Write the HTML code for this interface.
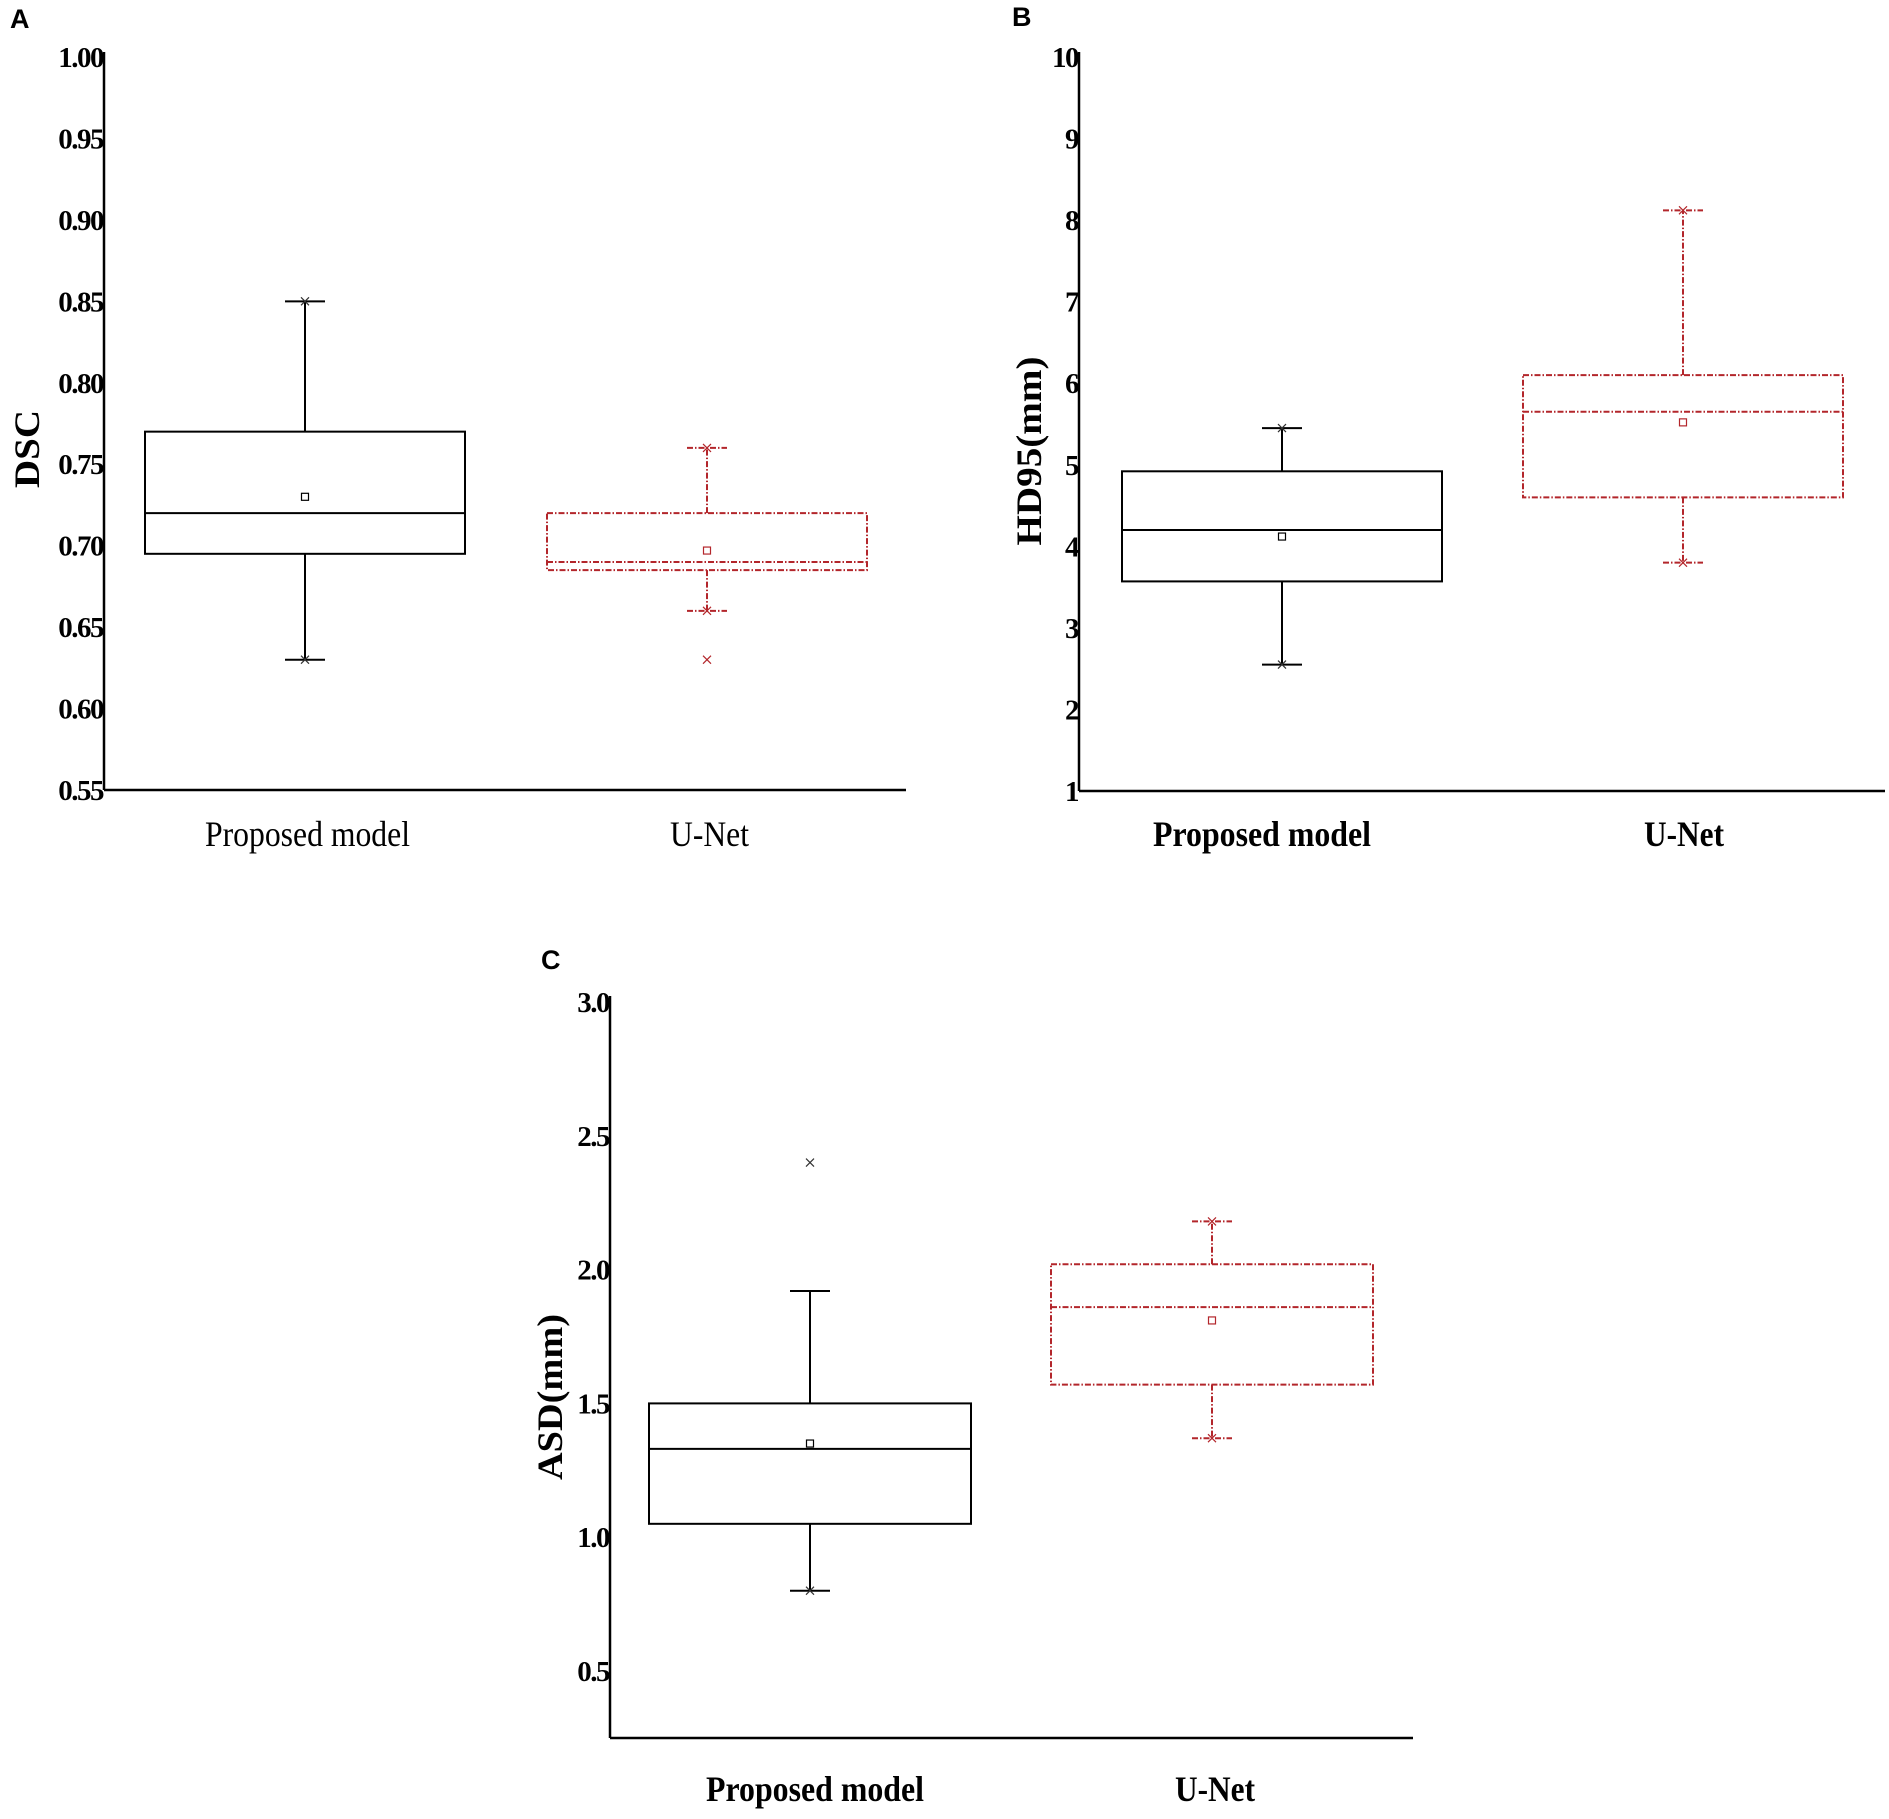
<!DOCTYPE html>
<html><head><meta charset="utf-8"><style>
html,body{margin:0;padding:0;background:#fff;}
svg{display:block;}
text{font-family:"Liberation Serif",serif;}
</style></head><body>
<svg id="fig" width="1889" height="1819" viewBox="0 0 1889 1819" xmlns="http://www.w3.org/2000/svg"></svg>
<script>
// ---- Panel A (DSC) ----
const categoriesA = ["Proposed model", "U-Net"];
const q1A = [0.695, 0.685];
const medianA = [0.72, 0.69];
const q3A = [0.77, 0.72];
const whiskerLowA = [0.63, 0.66];
const whiskerHighA = [0.85, 0.76];
const meanA = [0.73, 0.697];
const outliersA = [[], [0.63]];
const ticksA = ["0.55","0.60","0.65","0.70","0.75","0.80","0.85","0.90","0.95","1.00"];

// ---- Panel B (HD95) ----
const categoriesB = ["Proposed model", "U-Net"];
const q1B = [3.57, 4.6];
const medianB = [4.2, 5.65];
const q3B = [4.92, 6.1];
const whiskerLowB = [2.55, 3.8];
const whiskerHighB = [5.45, 8.12];
const meanB = [4.12, 5.52];
const outliersB = [[], []];
const ticksB = ["1","2","3","4","5","6","7","8","9","10"];

// ---- Panel C (ASD) ----
const categoriesC = ["Proposed model", "U-Net"];
const q1C = [1.05, 1.57];
const medianC = [1.33, 1.86];
const q3C = [1.5, 2.02];
const whiskerLowC = [0.8, 1.37];
const whiskerHighC = [1.92, 2.18];
const meanC = [1.35, 1.81];
const outliersC = [[2.4], []];
const ticksC = ["0.5","1.0","1.5","2.0","2.5","3.0"];

const NS = "http://www.w3.org/2000/svg";
const svg = document.getElementById("fig");
const RED = "#b3262b";
const DASH = "6 2 1.5 2";

function mk(tag, attrs, parent) {
  const e = document.createElementNS(NS, tag);
  for (const k in attrs) e.setAttribute(k, attrs[k]);
  (parent || svg).appendChild(e);
  return e;
}

function panel(cfg) {
  const g = mk("g", {});
  
  
  const y = v => cfg.y0 + (v - cfg.v0) * (cfg.y1 - cfg.y0) / (cfg.v1 - cfg.v0);
  const L = mk("text", {x: cfg.letterX, y: cfg.letterY, "font-size": 27, "font-weight": "bold", style: "font-family:'Liberation Sans',sans-serif"}, g);
  L.textContent = cfg.letter;
  
  
  const ya = mk("line", {x1: cfg.ax, y1: cfg.axTop, x2: cfg.ax, y2: cfg.axBottom, stroke: "#000", "stroke-width": 2.5}, g);
  
  
  const xa = mk("line", {x1: cfg.ax, y1: cfg.axBottom, x2: cfg.axRight, y2: cfg.axBottom, stroke: "#000", "stroke-width": 2.5}, g);
  
  
  cfg.ticks.forEach(t => {
    const ty = y(parseFloat(t));
    const tx = mk("text", {x: cfg.ax - 1, y: ty + 10, "text-anchor": "end", "font-size": 29, "font-weight": "bold", "letter-spacing": -1.5}, g);
    tx.textContent = t;
    
    
  });
  const yt = mk("text", {x: 0, y: 0, "text-anchor": "middle", "font-size": cfg.titleSize, "font-weight": "bold", textLength: cfg.titleLen, lengthAdjust: "spacingAndGlyphs", transform: `translate(${cfg.titleX},${cfg.titleY}) rotate(-90)`}, g);
  yt.textContent = cfg.title;
  
  
  cfg.cats.forEach((c, i) => {
    const cx = cfg.centers[i], hw = cfg.halfW, cap = 20;
    const red = i === 1;
    const col = red ? RED : "#000";
    const da = red ? DASH : "none";
    const bg = mk("g", {}, g);
    
    
    const st = {stroke: col, "stroke-width": 2, "stroke-dasharray": da, fill: "none"};
    mk("line", Object.assign({x1: cx, y1: y(cfg.q3[i]), x2: cx, y2: y(cfg.wh[i])}, st), bg);
    mk("line", Object.assign({x1: cx, y1: y(cfg.q1[i]), x2: cx, y2: y(cfg.wl[i])}, st), bg);
    mk("line", Object.assign({x1: cx - cap, y1: y(cfg.wh[i]), x2: cx + cap, y2: y(cfg.wh[i])}, st), bg);
    mk("line", Object.assign({x1: cx - cap, y1: y(cfg.wl[i]), x2: cx + cap, y2: y(cfg.wl[i])}, st), bg);
    mk("rect", Object.assign({x: cx - hw, y: y(cfg.q3[i]), width: 2 * hw, height: y(cfg.q1[i]) - y(cfg.q3[i])}, st), bg);
    mk("line", Object.assign({x1: cx - hw, y1: y(cfg.med[i]), x2: cx + hw, y2: y(cfg.med[i])}, st), bg);
    const m = mk("rect", {x: cx - 3.5, y: y(cfg.mean[i]) - 3.5, width: 7, height: 7, fill: "#fff", stroke: col, "stroke-width": 1.2}, bg);
    
    
    const xs = [cfg.wl[i]].concat(cfg.out[i]);
    if (!cfg.noTopMark || red) xs.push(cfg.wh[i]);
    xs.forEach(v => {
      const py = y(v);
      mk("path", {d: `M${cx-4},${py-4}L${cx+4},${py+4}M${cx-4},${py+4}L${cx+4},${py-4}`, stroke: red ? RED : "#333", "stroke-width": 1.2, fill: "none"}, bg);
    });
    const lb = mk("text", {x: cfg.labelX[i], y: cfg.labelY, "font-size": 36, "font-weight": cfg.boldLabels ? "bold" : "normal", textLength: cfg.labelW[i], lengthAdjust: "spacingAndGlyphs"}, g);
    lb.textContent = c;
    
    
  });
}

panel({name: "panel-a-dsc", letter: "A", letterX: 10, letterY: 28,
  ax: 104, axTop: 52, axBottom: 790, axRight: 906,
  v0: 0.55, v1: 1.0, y0: 790, y1: 57,
  ticks: ticksA, title: "DSC", titleSize: 36, titleLen: 78, titleX: 39, titleY: 449,
  cats: categoriesA, centers: [305, 707], halfW: 160,
  q1: q1A, med: medianA, q3: q3A, wl: whiskerLowA, wh: whiskerHighA, mean: meanA, out: outliersA,
  labelX: [205, 670], labelW: [205, 79], labelY: 846, boldLabels: false});

panel({name: "panel-b-hd95", letter: "B", letterX: 1012, letterY: 26,
  ax: 1079, axTop: 52, axBottom: 791, axRight: 1885,
  v0: 1, v1: 10, y0: 791, y1: 57,
  ticks: ticksB, title: "HD95(mm)", titleSize: 36, titleLen: 189, titleX: 1041, titleY: 451,
  cats: categoriesB, centers: [1282, 1683], halfW: 160,
  q1: q1B, med: medianB, q3: q3B, wl: whiskerLowB, wh: whiskerHighB, mean: meanB, out: outliersB,
  labelX: [1153, 1644], labelW: [218, 80], labelY: 846, boldLabels: true});

panel({name: "panel-c-asd", letter: "C", letterX: 541, letterY: 969,
  ax: 610, axTop: 996, axBottom: 1738, axRight: 1413,
  v0: 0.5, v1: 3.0, y0: 1671, y1: 1002,
  ticks: ticksC, title: "ASD(mm)", titleSize: 36, titleLen: 166, titleX: 562, titleY: 1397,
  noTopMark: true,
  cats: categoriesC, centers: [810, 1212], halfW: 161,
  q1: q1C, med: medianC, q3: q3C, wl: whiskerLowC, wh: whiskerHighC, mean: meanC, out: outliersC,
  labelX: [706, 1175], labelW: [218, 80], labelY: 1801, boldLabels: true});
</script>
</body></html>
